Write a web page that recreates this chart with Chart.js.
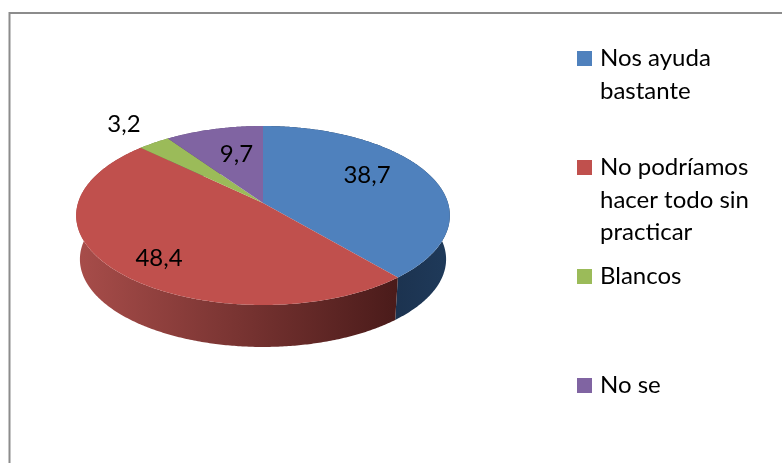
<!DOCTYPE html>
<html>
<head>
<meta charset="utf-8">
<style>html,body{margin:0;padding:0;background:#fff}canvas{display:block}</style>
<script src="https://cdn.jsdelivr.net/npm/chart.js@4/dist/chart.umd.min.js"></script>
</head>
<body>
<canvas id="c" width="782" height="463"></canvas>
<script>
const categories = ["Nos ayuda bastante", "No podríamos hacer todo sin practicar", "Blancos", "No se"];
const values = [38.7, 48.4, 3.2, 9.7];
const valueLabels = ["38,7", "48,4", "3,2", "9,7"];
const legendLines = [["Nos ayuda", "bastante"], ["No podríamos", "hacer todo sin", "practicar"], ["Blancos"], ["No se"]];

const faceColors = ["#4f81bd", "#c0504d", "#9bbb59", "#8064a2"];
const wallColors = [["#1c3350", "#1f3a5a"], ["#a84d4a", "#4a1b1a"], ["#6d8540", "#5d7335"], ["#5a4672", "#4c3b61"]];
const labelOffsets = [[104, -20], [-104, 63], [-139, -71], [-26.5, -41]];
const legendTops = [51, 160, 269, 378];

const FONT = "24px Lato, Carlito, sans-serif";
const PERSP = 0.1397, VSCALE = 87.75 / 185, DEPTH = 44, BOTTOM_SHRINK = 0.98;

function project(el, a, depth, scale) {
  const u = Math.cos(a), v = -Math.sin(a), d = 1 + PERSP * v, R = el.outerRadius * scale;
  return { x: el.x + R * u / d, y: el.y + depth - R * VSCALE * v / d };
}
function samples(el) {
  const n = Math.max(2, Math.ceil((el.endAngle - el.startAngle) / 0.01)), out = [];
  for (let i = 0; i <= n; i++) out.push(el.startAngle + (el.endAngle - el.startAngle) * i / n);
  return out;
}

const pie3d = {
  id: "pie3d",
  beforeDraw(chart) {
    const ctx = chart.ctx;
    ctx.save();
    ctx.strokeStyle = "#8c8c8c";
    ctx.lineWidth = 2;
    ctx.beginPath();
    ctx.moveTo(9.5, 463); ctx.lineTo(9.5, 13); ctx.lineTo(782, 13);
    ctx.stroke();
    ctx.restore();
  },
  beforeDatasetsDraw(chart) {
    const ctx = chart.ctx, arcs = chart.getDatasetMeta(0).data;
    ctx.save();
    // side walls
    arcs.forEach((el, i) => {
      const as = samples(el);
      const top = as.map(a => project(el, a, 0, 1));
      const bot = as.map(a => project(el, a, DEPTH, BOTTOM_SHRINK));
      const xs = top.filter(p => p.y > el.y).map(p => p.x);
      const x0 = xs.length ? Math.min(...xs) : el.x, x1 = xs.length ? Math.max(...xs) : el.x + 1;
      const g = ctx.createLinearGradient(x0, 0, x1, 0);
      g.addColorStop(0, wallColors[i][0]);
      g.addColorStop(1, wallColors[i][1]);
      ctx.fillStyle = g;
      ctx.beginPath();
      top.forEach((p, k) => k ? ctx.lineTo(p.x, p.y) : ctx.moveTo(p.x, p.y));
      bot.reverse().forEach(p => ctx.lineTo(p.x, p.y));
      ctx.closePath();
      ctx.fill();
    });
    // top faces
    arcs.forEach((el, i) => {
      ctx.fillStyle = el.options.backgroundColor;
      ctx.beginPath();
      ctx.moveTo(el.x, el.y);
      samples(el).forEach(a => { const p = project(el, a, 0, 1); ctx.lineTo(p.x, p.y); });
      ctx.closePath();
      ctx.fill();
    });
    // value labels
    ctx.font = FONT;
    ctx.fillStyle = "#000";
    ctx.textAlign = "center";
    ctx.textBaseline = "alphabetic";
    arcs.forEach((el, i) => ctx.fillText(valueLabels[i], el.x + labelOffsets[i][0], el.y + labelOffsets[i][1]));
    // legend
    ctx.textAlign = "left";
    legendLines.forEach((lines, i) => {
      ctx.fillStyle = faceColors[i];
      ctx.fillRect(577, legendTops[i], 15, 15);
      ctx.fillStyle = "#000";
      lines.forEach((t, k) => ctx.fillText(t, 600, legendTops[i] + 15 + k * 32.7));
    });
    ctx.restore();
    return false;
  }
};

new Chart(document.getElementById("c"), {
  type: "pie",
  data: { labels: categories, datasets: [{ data: values, backgroundColor: faceColors, borderWidth: 0 }] },
  options: {
    responsive: false,
    animation: false,
    layout: { padding: { left: 78, top: 18, right: 334, bottom: 75 } },
    plugins: { legend: { display: false }, tooltip: { enabled: false } }
  },
  plugins: [pie3d]
});
</script>
</body>
</html>
